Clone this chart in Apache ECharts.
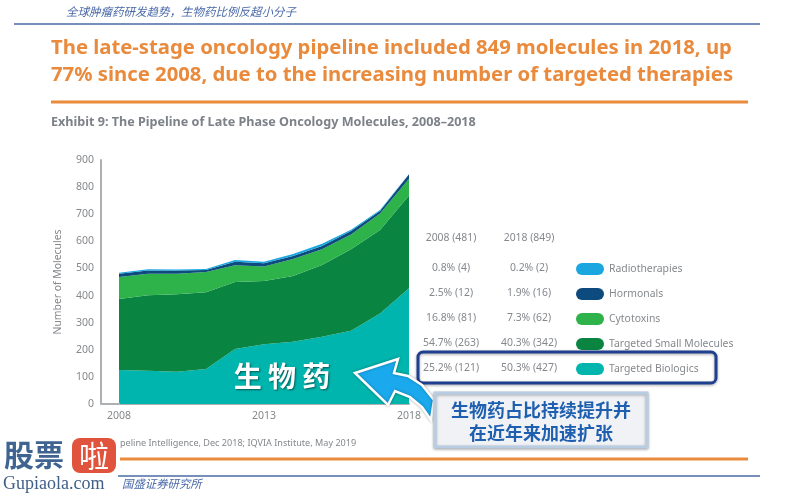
<!DOCTYPE html>
<html lang="zh">
<head>
  <meta charset="UTF-8">
  <title>Pipeline of Late Phase Oncology Molecules</title>
  <script src="https://cdnjs.cloudflare.com/ajax/libs/echarts/6.0.0/echarts.min.js"></script>
  <style>
    html, body { margin: 0; padding: 0; background: #fff; }
    #chart { width: 800px; height: 494px; }
  </style>
</head>
<body>
<div id="chart"></div>
<script>
  // values
  var years = ['2008', '2009', '2010', '2011', '2012', '2013', '2014', '2015', '2016', '2017', '2018'];
  var biologics = [125, 123, 119, 129, 203, 220, 230, 248, 270, 334, 427];
  var smallMolecules = [262, 278, 286, 283, 247, 234, 242, 265, 301, 308, 342];
  var cytotoxins = [81, 79, 75, 75, 62, 53, 63, 58, 54, 61, 62];
  var hormonals = [12, 12, 12, 7, 13, 12, 11, 12, 13, 9, 16];
  var radiotherapies = [4, 5, 4, 4, 6, 6, 7, 8, 5, 4, 2];

  var seriesNames = ['Radiotherapies', 'Hormonals', 'Cytotoxins', 'Targeted Small Molecules', 'Targeted Biologics'];
  var tableHeader = ['2008 (481)', '2018 (849)'];
  var table2008 = ['0.8% (4)', '2.5% (12)', '16.8% (81)', '54.7% (263)', '25.2% (121)'];
  var table2018 = ['0.2% (2)', '1.9% (16)', '7.3% (62)', '40.3% (342)', '50.3% (427)'];

  var TEXT_FONT = '"Noto Sans", "Open Sans", sans-serif';
  var CJK_FONT = '"Noto Sans CJK SC", sans-serif';
  var GREY = '#85888c';
  var AXIS_GREY = '#aeb1b4';
  var ORANGE = '#e98a3c';
  var BLUE_LINE = '#4a6aa5';
  var PILL = 'path://M6,0 H22 A6,6 0 0 1 22,12 H6 A6,6 0 0 1 6,0 Z';

  function area(name, values, color) {
    return {
      name: name,
      type: 'line',
      stack: 'total',
      data: values,
      showSymbol: false,
      silent: true,
      lineStyle: { width: 0 },
      itemStyle: { color: color },
      areaStyle: { color: color, opacity: 1 }
    };
  }

  function label(x, y, text, size, color, extra) {
    var style = { x: x, y: y, text: text, fontSize: size, fill: color, fontFamily: TEXT_FONT, verticalAlign: 'middle' };
    for (var k in extra) style[k] = extra[k];
    return { type: 'text', z: 20, style: style };
  }

  function hline(x1, x2, y, color, width) {
    return { type: 'line', z: 5, shape: { x1: x1, y1: y, x2: x2, y2: y }, style: { stroke: color, lineWidth: width } };
  }

  var graphics = [
    label(66, 12, '全球肿瘤药研发趋势，生物药比例反超小分子', 11.5, '#4a69a8', { fontFamily: CJK_FONT, fontStyle: 'italic' }),
    hline(14, 760, 24, BLUE_LINE, 1.5),
    label(51, 48, 'The late-stage oncology pipeline included 849 molecules in 2018, up', 20.3, ORANGE, { fontWeight: 'bold' }),
    label(51, 75, '77% since 2008, due to the increasing number of targeted therapies', 20.3, ORANGE, { fontWeight: 'bold' }),
    hline(51, 748, 102, ORANGE, 3),
    label(51, 122, 'Exhibit 9: The Pipeline of Late Phase Oncology Molecules, 2008–2018', 12.6, '#7d8188', { fontWeight: 'bold' }),
    label(451, 238, tableHeader[0], 10.4, GREY, { align: 'center' }),
    label(529, 238, tableHeader[1], 10.4, GREY, { align: 'center' }),
    // x axis runs on to the left as far as the y axis
    hline(101, 120, 404, AXIS_GREY, 2)
  ];

  var rowY = [268, 293, 318, 343, 368];
  rowY.forEach(function (y, i) {
    graphics.push(label(451, y, table2008[i], 10.4, GREY, { align: 'center' }));
    graphics.push(label(529, y, table2018[i], 10.4, GREY, { align: 'center' }));
  });

  graphics.push(
    // highlight around the biologics row
    { type: 'rect', z: 15, shape: { x: 418, y: 352, width: 298, height: 31, r: 5 },
      style: { fill: 'transparent', stroke: '#1f3f8f', lineWidth: 3, shadowBlur: 3, shadowColor: 'rgba(0,0,0,0.35)', shadowOffsetY: 1 } },
    label(282, 376, '生 物 药', 28, '#fff', { align: 'center', fontFamily: CJK_FONT, fontWeight: 'bold', textShadowBlur: 2, textShadowColor: 'rgba(0,0,0,0.5)', textShadowOffsetX: 1, textShadowOffsetY: 1 }),
    // arrow
    { type: 'polygon', z: 16,
      shape: { points: [[355, 373], [398, 359], [394, 373], [408, 376], [422, 385], [434, 400], [431, 420], [422, 407], [410, 397], [395, 391], [388, 405]] },
      style: { fill: '#1aa9ec', stroke: '#fff', lineWidth: 2.5, shadowBlur: 3, shadowColor: 'rgba(0,0,0,0.3)' } },
    // callout
    { type: 'rect', z: 17, shape: { x: 435, y: 393, width: 212, height: 54 },
      style: { fill: '#f0f2f6', stroke: '#b9cde2', lineWidth: 3, shadowBlur: 3, shadowColor: 'rgba(0,0,0,0.3)', shadowOffsetY: 1 } },
    label(541, 410, '生物药占比持续提升并', 18, '#1f5fb0', { align: 'center', fontFamily: CJK_FONT, fontWeight: 'bold' }),
    label(541, 433, '在近年来加速扩张', 18, '#1f5fb0', { align: 'center', fontFamily: CJK_FONT, fontWeight: 'bold' }),
    // footer
    label(120, 443, 'peline Intelligence, Dec 2018; IQVIA Institute, May 2019', 9.1, GREY),
    hline(120, 748, 459, ORANGE, 3),
    hline(118, 760, 476, BLUE_LINE, 1.5),
    label(122, 484, '国盛证券研究所', 11.4, '#4a69a8', { fontFamily: CJK_FONT, fontStyle: 'italic' }),
    // watermark logo
    label(4, 455, '股票', 30, '#3f6491', { fontFamily: CJK_FONT, fontWeight: 'bold' }),
    { type: 'rect', z: 19, shape: { x: 72, y: 438, width: 44, height: 35, r: 8 }, style: { fill: '#e0533c' } },
    label(94, 456, '啦', 30, '#fff', { align: 'center', fontFamily: CJK_FONT }),
    label(3, 484, 'Gupiaola.com', 18, '#3f5f86', { fontFamily: '"Liberation Serif", serif' })
  );

  var chart = echarts.init(document.getElementById('chart'));
  chart.setOption({
    animation: false,
    backgroundColor: '#fff',
    textStyle: { fontFamily: TEXT_FONT },
    grid: { left: 119, top: 160, width: 290, height: 244 },
    legend: {
      left: 571,
      top: 258,
      orient: 'vertical',
      itemWidth: 28,
      itemHeight: 13,
      itemGap: 13,
      icon: PILL,
      selectedMode: false,
      data: seriesNames,
      textStyle: { fontSize: 10.4, color: GREY, fontFamily: TEXT_FONT }
    },
    xAxis: {
      type: 'category',
      data: years,
      boundaryGap: false,
      axisTick: { show: false },
      axisLine: { show: true, lineStyle: { color: AXIS_GREY, width: 2 } },
      axisLabel: { interval: 4, fontSize: 10.5, color: GREY, margin: 7 }
    },
    yAxis: {
      type: 'value',
      min: 0,
      max: 900,
      interval: 100,
      offset: 18,
      name: 'Number of Molecules',
      nameLocation: 'middle',
      nameGap: 38,
      nameTextStyle: { fontSize: 10.4, color: GREY },
      splitLine: { show: false },
      axisTick: { show: false },
      axisLine: { show: true, lineStyle: { color: AXIS_GREY, width: 2 } },
      axisLabel: { fontSize: 10.5, color: GREY, margin: 7 }
    },
    series: [
      area(seriesNames[4], biologics, '#00b5ad'),
      area(seriesNames[3], smallMolecules, '#0a8441'),
      area(seriesNames[2], cytotoxins, '#2db34a'),
      area(seriesNames[1], hormonals, '#0d4a7d'),
      area(seriesNames[0], radiotherapies, '#1aa7e0')
    ],
    graphic: graphics
  });
</script>
</body>
</html>
